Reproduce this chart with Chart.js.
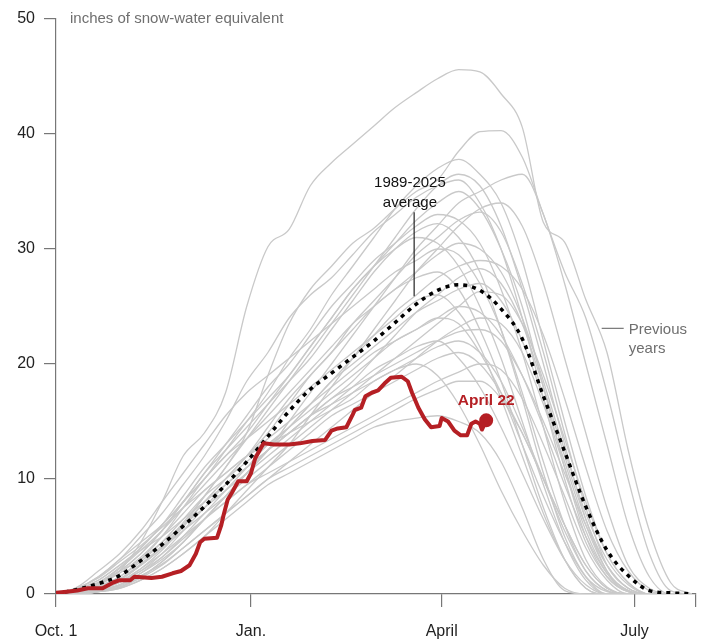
<!DOCTYPE html>
<html>
<head>
<meta charset="utf-8">
<script src="https://cdn.jsdelivr.net/npm/chart.js@4.4.1/dist/chart.umd.min.js"></script>
<style>
  html, body { margin: 0; padding: 0; background: #fff; }
  #wrap { width: 705px; height: 642px; }
</style>
</head>
<body>
<div id="wrap"><canvas id="snowChart" width="705" height="642"></canvas></div>
<script>
// days since Oct. 1
const days = [0,10,20,30,40,50,60,70,80,90,100,110,120,130,140,150,160,170,180,190,200,210,220,230,240,250,260,270,280,290,300];

const tickDays  = [0, 92, 182, 273, 302];
const tickNames = ['Oct. 1', 'Jan.', 'April', 'July', ''];

// 1989-2025 average, inches of snow-water equivalent
const avgSwe = [0,0.4,0.9,1.6,2.9,4.3,5.9,7.6,9.5,11.5,13.7,15.9,17.8,19.2,20.6,22.0,23.6,25.2,26.4,26.9,26.4,24.8,22.2,17.2,12.4,7.6,3.8,1.6,0.3,0.1,0];

// this season, up to April 22
const redDays = [0,5,10,15,22,27,30,35,37,45,50,55,59,63,66,68,70,76,78,79,81,83,86,90,92,94,97,98,103,110,115,121,127,130,133,137,140,141,144,146,149,152,155,158,163,166,168,171,174,177,181,182,185,188,191,194,196,198,200,201,203];
const redSwe  = [0.1,0.2,0.3,0.5,0.5,1.0,1.2,1.2,1.5,1.4,1.5,1.8,2.0,2.5,3.5,4.5,4.8,4.9,6.0,6.8,8.2,8.8,9.8,9.8,10.5,11.8,12.8,13.1,13.0,13.0,13.1,13.3,13.4,14.2,14.4,14.5,15.6,16.0,16.2,17.2,17.5,17.7,18.3,18.8,18.9,18.5,17.5,16.2,15.2,14.5,14.6,15.3,15.0,14.2,13.8,13.8,14.8,15.0,14.8,14.3,15.1];

// previous years, one row per season, sampled on `days`
const prevYears = [
  [0,0.2,0.8,2.0,4.5,8.0,12.0,14.0,17.5,25.0,30.2,31.7,35.5,37.5,39.1,40.7,42.3,43.6,44.8,45.6,45.4,43.5,40.6,32.3,30.6,25.6,21.0,12.5,5.5,1.0,0],
  [0,0.1,0.5,1.2,2.5,4.0,6.0,8.5,11.0,14.0,19.0,23.5,26.5,28.5,30.5,31.8,33.5,35.0,36.0,38.5,40.2,40.3,38.0,33.0,28.0,24.0,17.5,10.0,3.5,0.3,0],
  [0,0.3,1.0,2.0,3.5,5.5,8.0,10.0,12.5,15.0,17.5,20.5,23.0,26.0,28.5,31.0,33.5,35.5,37.0,37.8,36.5,34.0,29.0,22.0,15.0,8.5,3.5,1.0,0,0,0],
  [0,0,0.3,0.8,1.8,3.0,4.5,6.5,8.5,10.5,12.5,15.0,17.5,20.0,22.5,25.0,27.5,30.0,32.0,34.0,35.0,36.0,36.5,33.0,27.0,20.0,13.0,6.0,1.5,0,0],
  [0,0.5,1.5,3.0,5.0,7.0,9.5,12.0,15.0,18.5,21.0,24.0,26.0,27.5,29.5,31.5,33.0,34.5,35.5,36.0,34.0,30.0,24.0,17.0,10.0,4.5,1.5,0.2,0,0,0],
  [0,0.2,0.6,1.5,3.0,5.0,7.5,10.0,12.0,14.0,16.5,19.0,21.5,24.0,26.5,28.5,30.5,32.5,34.0,35.0,33.5,30.0,25.0,18.0,11.0,5.0,1.5,0.2,0,0,0],
  [0,0,0.4,1.0,2.2,3.8,5.8,8.0,10.0,12.0,14.0,16.5,19.0,21.0,23.5,25.5,27.5,29.5,31.0,32.5,33.2,31.5,27.0,21.0,14.0,7.5,2.5,0.5,0,0,0],
  [0,0.4,1.2,2.5,4.0,6.0,8.0,10.5,12.5,14.5,16.5,18.5,20.5,23.0,25.5,28.0,30.0,31.5,32.2,31.0,28.0,23.0,17.0,10.5,5.0,1.5,0,0,0,0,0],
  [0,0.1,0.5,1.2,2.5,4.0,6.0,8.0,10.0,12.0,14.5,17.0,19.0,21.0,23.0,25.0,26.5,28.0,29.5,30.5,30.0,28.0,24.0,18.5,12.5,7.0,3.0,0.8,0,0,0],
  [0,0,0.2,0.6,1.5,2.8,4.5,6.5,8.5,10.5,12.5,14.5,16.5,18.5,20.5,22.5,24.5,26.0,27.5,28.5,29.0,28.5,26.5,22.5,17.0,11.0,5.5,2.0,0.3,0,0],
  [0,0.3,1.0,2.2,3.8,5.5,7.5,9.5,11.5,13.5,15.5,17.5,19.5,21.5,23.5,25.0,26.5,27.5,28.0,26.5,23.0,18.5,13.0,7.5,3.0,0.5,0,0,0,0,0],
  [0,0.2,0.7,1.5,2.8,4.5,6.5,8.5,10.0,11.5,13.0,14.5,16.5,18.5,20.0,21.5,23.0,24.5,25.5,26.5,27.0,25.5,22.0,17.0,11.5,6.0,2.0,0.3,0,0,0],
  [0,0.5,1.5,3.0,4.5,6.0,8.0,10.0,12.0,13.5,15.0,16.5,18.0,19.5,21.0,22.5,24.0,25.5,26.0,24.5,21.5,17.0,12.0,7.0,3.0,0.5,0,0,0,0,0],
  [0,0,0.3,0.8,1.8,3.2,5.0,7.0,9.0,11.0,13.0,14.5,16.0,17.5,19.0,20.5,22.0,23.0,24.0,25.0,24.5,22.5,19.0,14.5,9.5,5.0,1.8,0.3,0,0,0],
  [0,0.2,0.8,1.8,3.2,5.0,7.0,9.0,10.5,12.0,13.5,15.0,16.5,18.0,19.5,21.0,22.0,23.0,24.0,23.5,21.0,17.5,13.0,8.5,4.5,1.5,0.2,0,0,0,0],
  [0,0.1,0.4,1.0,2.0,3.5,5.5,7.5,9.5,11.0,12.5,14.0,15.5,17.0,18.0,19.0,20.0,21.0,22.0,22.8,23.0,22.0,19.0,15.0,10.5,6.0,2.5,0.5,0,0,0],
  [0,0.3,1.0,2.0,3.0,4.5,6.0,7.5,9.0,10.5,12.0,13.5,15.0,16.5,18.0,19.5,20.5,21.5,22.0,20.5,18.0,14.5,10.5,6.5,3.0,0.8,0,0,0,0,0],
  [0,0,0.2,0.7,1.5,2.8,4.5,6.5,8.0,9.5,11.0,12.5,14.0,15.5,16.5,17.5,18.5,19.5,20.5,21.0,20.0,17.5,14.0,10.0,6.0,2.5,0.5,0,0,0,0],
  [0,0.4,1.2,2.5,3.8,5.0,6.5,8.0,9.5,11.0,12.5,14.0,15.5,16.5,17.5,18.5,19.5,20.0,19.0,16.5,13.0,9.0,5.5,2.5,0.5,0,0,0,0,0,0],
  [0,0,0.2,0.5,1.2,2.2,3.5,5.0,6.5,8.0,9.5,10.5,11.5,12.5,13.5,14.5,15.0,15.3,15.5,15.0,14.0,11.5,7.5,3.0,0.3,0,0,0,0,0,0],
  [0,0.1,0.3,0.8,1.6,2.6,4.0,5.5,7.0,8.5,10.0,11.0,12.0,13.0,14.0,15.0,16.0,17.0,17.8,18.5,18.5,17.0,14.0,10.0,6.0,2.5,0.5,0,0,0,0],
  [0,0.6,2.0,3.5,5.5,8.0,10.5,13.0,15.5,17.5,19.0,20.5,22.0,23.5,25.0,26.5,28.0,29.0,30.0,29.5,27.0,23.0,17.5,11.5,6.0,2.0,0.3,0,0,0,0],
  [0,0,0.2,0.5,1.2,2.2,3.5,5.0,7.0,9.0,11.0,13.0,15.5,18.0,20.5,23.0,25.5,28.0,30.0,32.0,33.5,34.0,32.0,27.0,20.5,14.0,7.5,2.5,0.5,0,0],
  [0,0.2,0.6,1.3,2.5,4.0,5.5,7.0,8.5,10.0,11.5,13.0,14.5,16.0,17.5,19.0,20.5,22.0,23.5,25.0,26.3,26.0,23.5,19.0,13.5,8.0,3.5,1.0,0,0,0],
  [0,0.3,1.0,2.3,4.0,6.0,8.5,11.0,13.0,15.0,17.0,19.0,21.5,24.0,26.5,28.5,30.0,31.0,30.5,28.5,25.0,20.5,15.0,9.5,4.5,1.2,0,0,0,0,0],
  [0,0.1,0.4,1.0,2.0,3.2,4.8,6.5,8.5,10.5,12.5,14.0,15.5,17.0,18.5,20.5,22.5,24.5,26.0,27.5,28.3,27.0,23.5,18.0,12.0,6.5,2.5,0.5,0,0,0],
  [0,0,0.2,0.6,1.4,2.5,4.0,5.5,7.0,8.5,10.0,11.5,13.0,14.5,16.0,17.5,19.0,20.5,22.0,23.2,24.0,23.5,21.0,16.5,11.0,5.5,1.8,0.2,0,0,0],
  [0,0.3,0.9,2.0,3.5,5.5,8.0,10.5,13.0,15.5,18.0,20.0,22.5,25.0,27.0,29.0,30.5,32.0,33.0,32.5,30.5,26.5,21.0,14.5,8.0,3.0,0.6,0,0,0,0],
  [0,0.2,0.5,1.1,2.2,3.5,5.0,6.5,8.0,9.5,10.5,11.5,12.5,13.5,14.5,15.5,16.5,17.5,18.5,19.3,20.0,19.5,17.0,13.0,8.5,4.0,1.2,0,0,0,0],
  [0,0.5,1.4,2.8,4.2,5.8,7.5,9.0,10.5,12.0,13.0,14.0,15.0,16.0,17.0,18.5,19.5,20.5,21.5,22.0,21.0,18.5,14.5,10.0,5.5,2.0,0.3,0,0,0,0],
  [0,0.1,0.5,1.3,2.6,4.2,6.2,8.5,11.0,13.5,16.0,18.5,21.0,23.5,26.0,28.5,31.0,33.5,35.5,36.5,35.5,32.0,26.5,20.0,13.0,6.5,2.0,0.3,0,0,0]
];

const FONT = '"Liberation Sans", Arial, sans-serif';
const RED = '#b51f24';
const GREY = '#c9c9c9';

function pts(xs, ys) {
  return ys.map((v, i) => ({ x: xs[i], y: v }));
}

const datasets = [];

datasets.push({
  label: 'This season',
  data: pts(redDays, redSwe),
  borderColor: RED,
  backgroundColor: RED,
  borderWidth: 4,
  borderJoinStyle: 'round',
  borderCapStyle: 'round',
  pointRadius: ctx => ctx.dataIndex === redSwe.length - 1 ? 5 : 0,
  tension: 0,
  order: 0
});

datasets.push({
  label: '1989-2025 average',
  data: pts(days, avgSwe),
  borderColor: '#000',
  borderWidth: 3.5,
  borderDash: [4, 5],
  pointRadius: 0,
  cubicInterpolationMode: 'monotone',
  order: 1
});

prevYears.forEach((row, i) => {
  datasets.push({
    label: 'prev' + i,
    data: pts(days, row),
    borderColor: GREY,
    borderWidth: 1.3,
    pointRadius: 0,
    cubicInterpolationMode: 'monotone',
    order: 2
  });
});

const notes = {
  id: 'notes',
  afterDatasetsDraw(chart) {
    const ctx = chart.ctx;
    const x = chart.scales.x, y = chart.scales.y;
    ctx.save();

    // unit label
    ctx.font = '15px ' + FONT;
    ctx.fillStyle = '#6f6f6f';
    ctx.textAlign = 'left';
    ctx.textBaseline = 'middle';
    ctx.fillText('inches of snow-water equivalent', x.left + 14, y.getPixelForValue(50));

    // average label + leader
    ctx.fillStyle = '#111';
    ctx.textAlign = 'center';
    ctx.fillText('1989-2025', x.getPixelForValue(167), y.getPixelForValue(34) - 20);
    ctx.fillText('average', x.getPixelForValue(167), y.getPixelForValue(34));
    ctx.strokeStyle = '#222';
    ctx.lineWidth = 1.2;
    ctx.beginPath();
    ctx.moveTo(x.getPixelForValue(169), y.getPixelForValue(33.2));
    ctx.lineTo(x.getPixelForValue(169), y.getPixelForValue(25.9));
    ctx.stroke();

    // previous years label + leader
    ctx.fillStyle = '#6f6f6f';
    ctx.textAlign = 'left';
    const py = y.getPixelForValue(23.1);
    ctx.strokeStyle = '#777';
    ctx.beginPath();
    ctx.moveTo(x.getPixelForValue(257.5), py);
    ctx.lineTo(x.getPixelForValue(257.5) + 22, py);
    ctx.stroke();
    ctx.fillText('Previous', x.getPixelForValue(257.5) + 27, py + 2);
    ctx.fillText('years', x.getPixelForValue(257.5) + 27, py + 21);

    // end label for this season
    const last = redSwe.length - 1;
    ctx.font = 'bold 15.5px ' + FONT;
    ctx.fillStyle = RED;
    ctx.textAlign = 'center';
    ctx.fillText('April 22', x.getPixelForValue(redDays[last]), y.getPixelForValue(redSwe[last]) - 20);

    ctx.restore();
  }
};

new Chart(document.getElementById('snowChart'), {
  type: 'line',
  data: { datasets: datasets },
  options: {
    responsive: false,
    animation: false,
    layout: { padding: { top: 19, right: 4, left: 0, bottom: 0 } },
    plugins: { legend: { display: false }, tooltip: { enabled: false } },
    scales: {
      x: {
        type: 'linear',
        min: 0,
        max: 302,
        afterBuildTicks: axis => { axis.ticks = tickDays.map(v => ({ value: v })); },
        afterFit: axis => { axis.height = 48; axis.paddingLeft = 0; axis.paddingRight = 0; },
        ticks: {
          autoSkip: false,
          maxRotation: 0,
          padding: 15,
          color: '#222',
          font: { family: FONT, size: 16 },
          callback: v => tickNames[tickDays.indexOf(v)]
        },
        grid: { drawOnChartArea: false, drawTicks: true, tickLength: 13, color: '#777', lineWidth: 1.2 },
        border: { display: true, color: '#777', width: 1.2 }
      },
      y: {
        min: 0,
        max: 50,
        afterFit: axis => { axis.width = 56; },
        ticks: {
          stepSize: 10,
          padding: 9,
          color: '#222',
          font: { family: FONT, size: 16 }
        },
        grid: { drawOnChartArea: false, drawTicks: true, tickLength: 12, color: '#777', lineWidth: 1.2 },
        border: { display: true, color: '#777', width: 1.2 }
      }
    }
  },
  plugins: [notes]
});
</script>
</body>
</html>
